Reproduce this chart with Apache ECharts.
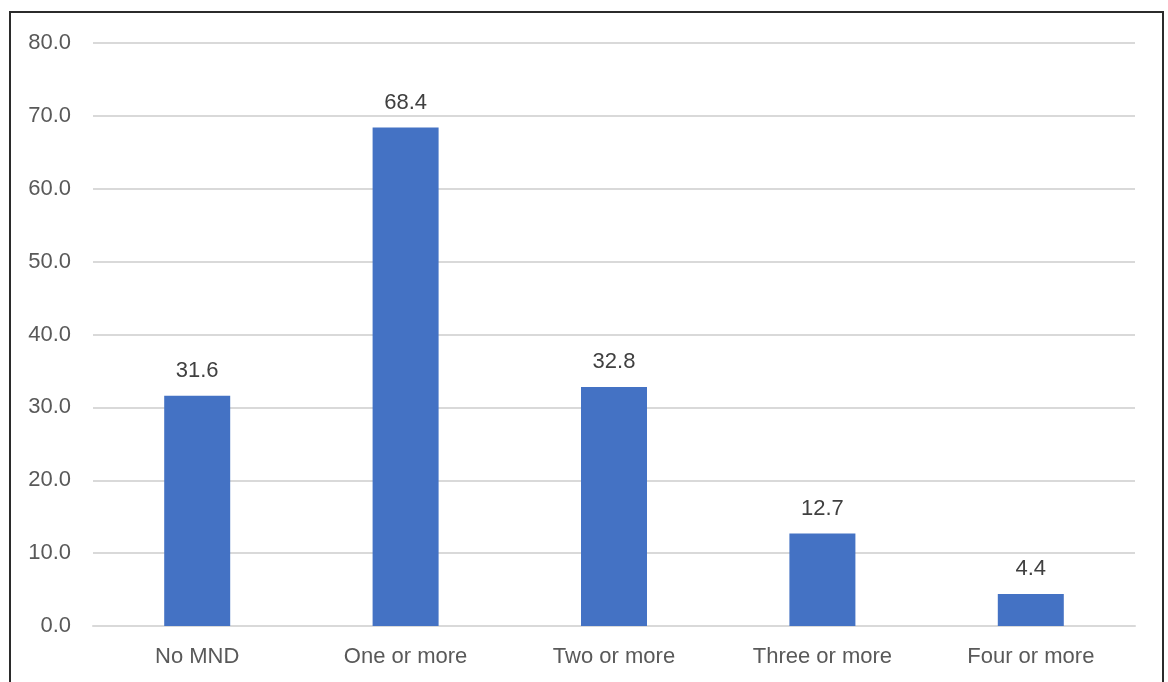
<!DOCTYPE html>
<html><head><meta charset="utf-8">
<script src="https://cdn.jsdelivr.net/npm/echarts@6/dist/echarts.min.js"></script>
<style>
html,body{margin:0;padding:0;background:#fff;overflow:hidden;}
#frame{position:absolute;left:9px;top:11px;width:1155px;height:700px;border:2px solid #2b2b2b;box-sizing:border-box;}
#chart{position:absolute;left:0;top:0;width:1168px;height:682px;}
</style>
</head><body>
<div id="frame"></div>
<div id="chart"></div>
<script>
const categories = ['No MND', 'One or more', 'Two or more', 'Three or more', 'Four or more'];
const values = [31.6, 68.4, 32.8, 12.7, 4.4];
const yTicks = { min: 0, max: 80, interval: 10 };

const chart = echarts.init(document.getElementById('chart'), null, { renderer: 'canvas' });
const font = '"Liberation Sans", Arial, sans-serif';
chart.setOption({
  animation: false,
  grid: { left: 93, right: 33, top: 43, bottom: 56, containLabel: false },
  xAxis: {
    type: 'category',
    data: categories,
    axisLine: { show: true, lineStyle: { color: '#d9d9d9', width: 2 } },
    axisTick: { show: false },
    axisLabel: { color: '#595959', fontFamily: font, fontSize: 22, margin: 20 }
  },
  yAxis: {
    type: 'value',
    min: yTicks.min, max: yTicks.max, interval: yTicks.interval,
    axisLine: { show: false },
    axisTick: { show: false },
    splitLine: { lineStyle: { color: '#d9d9d9', width: 2 } },
    axisLabel: {
      color: '#595959', fontFamily: font, fontSize: 22, margin: 22,
      formatter: v => v.toFixed(1)
    }
  },
  series: [{
    type: 'bar',
    data: values,
    barWidth: 66,
    itemStyle: { color: '#4472C4' },
    label: {
      show: true, position: 'top', distance: 14,
      color: '#404040', fontFamily: font, fontSize: 22,
      formatter: p => p.value.toFixed(1)
    }
  }]
});
</script>
</body></html>
